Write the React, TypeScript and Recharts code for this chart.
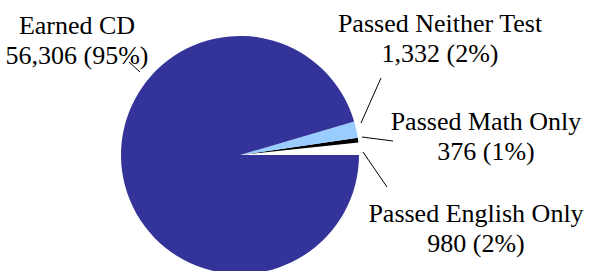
import { PieChart, Pie, Cell, Customized } from "recharts";

// slices in drawing order, counter-clockwise from 3 o'clock
const categories = ["Passed English Only", "Passed Math Only", "Passed Neither Test", "Earned CD"];
const students = [980, 376, 1332, 56306];
const percents = [2, 1, 2, 95];
const colors = ["#FFFFFF", "#000000", "#99CCFF", "#333399"];

// label placement relative to the pie centre: text centre/baseline and leader line
const labelLayout = [
  { tx: 236, ty: 67, line: [123, -3, 147, 32] },
  { tx: 246, ty: -25, line: [122, -18, 153, -14] },
  { tx: 200, ty: -123, line: [121, -32, 141, -77] },
  { tx: -163, ty: -121, line: [-100, -83, -111, -93] },
];

const data = categories.map((name, i) => ({ name, value: students[i], pct: percents[i] }));

const CX = 240;
const CY = 155;
const FONT = "Liberation Serif";

function Labels() {
  return (
    <g className="slice-labels">
      {data.map((d, i) => {
        const l = labelLayout[i];
        const x = CX + l.tx;
        const y = CY + l.ty;
        return (
          <g key={d.name}>
            <line
              x1={CX + l.line[0]}
              y1={CY + l.line[1]}
              x2={CX + l.line[2]}
              y2={CY + l.line[3]}
              stroke="#000"
              strokeWidth={1}
            />
            <text x={x} y={y} textAnchor="middle" fontFamily={FONT} fontSize={26} fill="#000">
              <tspan x={x}>{d.name}</tspan>
              <tspan x={x} dy={30}>
                {`${d.value.toLocaleString("en-US")} (${d.pct}%)`}
              </tspan>
            </text>
          </g>
        );
      })}
    </g>
  );
}

export default function App() {
  return (
    <div style={{ position: "absolute", left: 0, top: 0, width: 590, height: 271, background: "#fff" }}>
      <PieChart width={590} height={271} margin={{ top: 0, right: 0, bottom: 0, left: 0 }}>
        <Pie
          data={data}
          dataKey="value"
          nameKey="name"
          cx={CX}
          cy={CY}
          outerRadius={119}
          startAngle={0}
          endAngle={360}
          stroke="none"
          isAnimationActive={false}
        >
          {data.map((d, i) => (
            <Cell key={d.name} fill={colors[i]} stroke="none" />
          ))}
        </Pie>
        <Customized component={<Labels />} />
      </PieChart>
    </div>
  );
}
